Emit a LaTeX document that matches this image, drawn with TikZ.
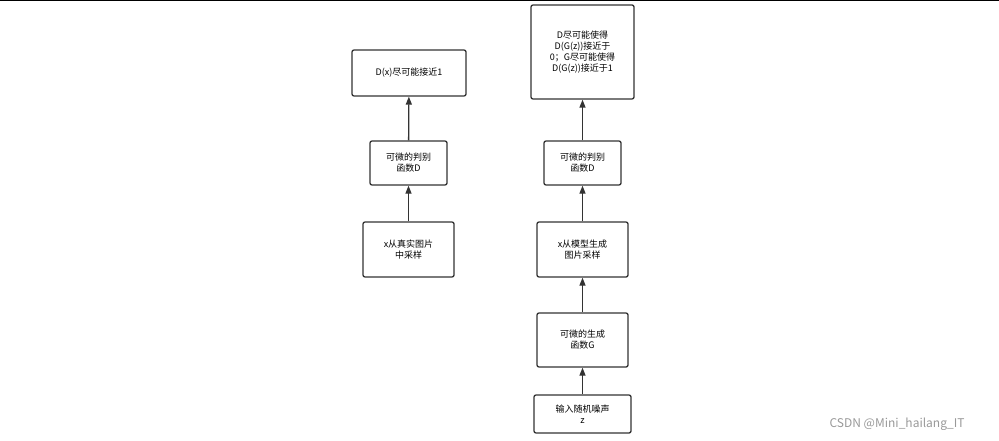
\documentclass[tikz,border=0pt]{standalone}
\usepackage{fontspec}
\setmainfont{Noto Sans CJK SC}
\usetikzlibrary{arrows.meta}
\begin{document}
\begin{tikzpicture}[x=1pt,y=-1pt,
 bx/.style={draw=black!80,line width=1.3pt,rounded corners=2pt,align=center,font=\fontsize{9}{11}\selectfont,inner sep=0pt},
 ar/.style={-{Triangle[length=8pt,width=6pt]},line width=1.3pt,draw=black!80}]
\useasboundingbox (0,0) rectangle (999,441);
\draw[line width=1pt] (0,0.5) -- (999,0.5);
\node[bx,minimum width=114pt,minimum height=46pt] (a1) at (409,73) {D(x)尽可能接近1};
\node[bx,minimum width=77pt,minimum height=44pt] (a2) at (408.5,163) {可微的判别\\函数D};
\node[bx,minimum width=91pt,minimum height=55pt] (a3) at (408.5,249.5) {x从真实图片\\中采样};
\node[bx,minimum width=103pt,minimum height=94pt] (b1) at (582.5,52) {D尽可能使得\\D(G(z))接近于\\0；G尽可能使得\\D(G(z))接近于1};
\node[bx,minimum width=77pt,minimum height=44pt] (b2) at (582.5,163) {可微的判别\\函数D};
\node[bx,minimum width=91pt,minimum height=55pt] (b3) at (582.5,249.5) {x从模型生成\\图片采样};
\node[bx,minimum width=91pt,minimum height=54pt] (b4) at (582.5,340) {可微的生成\\函数G};
\node[bx,minimum width=97pt,minimum height=38pt] (b5) at (582.5,414) {输入随机噪声\\z};
\draw[ar] (a3) -- (a2);
\draw[ar] (a2) -- (a1);
\draw[ar] (b5) -- (b4);
\draw[ar] (b4) -- (b3);
\draw[ar] (b3) -- (b2);
\draw[ar] (b2) -- (b1);
\node[text=black!40,font=\fontsize{12}{14}\selectfont,anchor=east] (wm) at (968,424) {CSDN @Mini\_hailang\_IT};
\end{tikzpicture}
\end{document}
